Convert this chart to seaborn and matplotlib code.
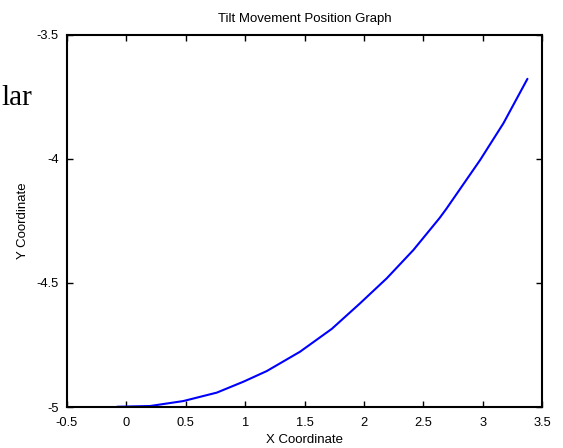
import pandas as pd
import seaborn as sns
import matplotlib.pyplot as plt

# values
x_coord = [-0.079, 0.199, 0.479, 0.761, 0.985, 1.182, 1.462, 1.729, 1.967, 2.192,
           2.416, 2.635, 2.692, 2.978, 3.174, 3.376]
y_coord = [-4.999, -4.996, -4.976, -4.942, -4.898, -4.855, -4.777, -4.685, -4.582, -4.481,
           -4.367, -4.239, -4.202, -4.004, -3.856, -3.677]

x_ticks = [-0.5, 0, 0.5, 1, 1.5, 2, 2.5, 3, 3.5]
x_tick_labels = ["-0.5", "0", "0.5", "1", "1.5", "2", "2.5", "3", "3.5"]
y_ticks = [-5, -4.5, -4, -3.5]
y_tick_labels = ["-5", "-4.5", "-4", "-3.5"]

df = pd.DataFrame({"X Coordinate": x_coord, "Y Coordinate": y_coord})

sns.set_theme(style="white")
plt.rcParams["font.family"] = ["Liberation Sans", "DejaVu Sans"]
plt.rcParams["text.color"] = "black"
plt.rcParams["axes.labelcolor"] = "black"

fig = plt.figure(figsize=(5.63, 4.48), dpi=100)
ax = fig.add_axes([0.119, 0.0915, 0.844, 0.8305])

sns.lineplot(data=df, x="X Coordinate", y="Y Coordinate", sort=False, color="#0000ff", linewidth=1.5, ax=ax)

ax.set_xlim(-0.5, 3.5)
ax.set_ylim(-5, -3.5)
ax.set_xticks(x_ticks)
ax.set_xticklabels(x_tick_labels)
ax.set_yticks(y_ticks)
ax.set_yticklabels(y_tick_labels)
ax.tick_params(direction="in", length=4, width=1, colors="black", labelsize=9.3,
               top=True, right=True, bottom=True, left=True)
ax.tick_params(axis="x", pad=7)
ax.tick_params(axis="y", pad=6)

for s in ax.spines.values():
    s.set_color("black")
    s.set_linewidth(1.5)

ax.set_title("Tilt Movement Position Graph", fontsize=9.5, pad=9, color="black")
ax.set_xlabel("X Coordinate", fontsize=9.5, labelpad=4)
ax.set_ylabel("Y Coordinate", fontsize=9.5, labelpad=5)

# stray text from the page the chart was cut from
fig.text(0.002, 0.766, "lar", fontsize=21, family="Liberation Serif", ha="left", va="baseline",
         color="black")

fig.savefig("out.png", dpi=100)
